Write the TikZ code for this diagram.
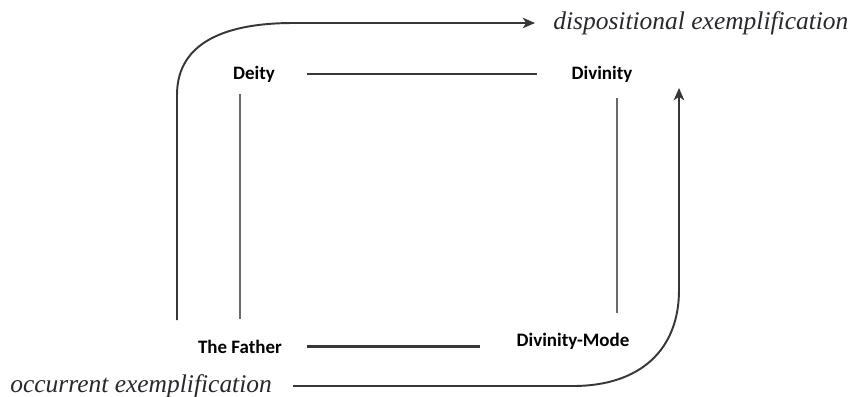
\documentclass[tikz,border=0pt]{standalone}
\usepackage{fontspec}
\setmainfont{Liberation Serif}
\newfontfamily\labelfont{Carlito}
\usetikzlibrary{arrows.meta}
\definecolor{linegrey}{RGB}{55,55,55}
\definecolor{bargrey}{RGB}{105,105,105}
\definecolor{textgrey}{RGB}{40,40,45}

\begin{document}
\begin{tikzpicture}[x=0.02cm,y=-0.02cm,
    term/.style={font=\labelfont\bfseries\fontsize{10.8}{12}\selectfont,inner sep=0pt,anchor=base},
    kind/.style={font=\itshape\fontsize{14.5}{16}\selectfont,text=textgrey,inner sep=0pt,anchor=west},
    link/.style={linegrey,line width=1.3pt},
    bar/.style={bargrey,line width=1.4pt},
    flow/.style={linegrey,line width=1.1pt,-{Stealth[length=7pt,width=6pt,inset=2pt]}}]
  \useasboundingbox (0,0) rectangle (859,396);
  % the four terms
  \node[term] (deity) at (254,79) {Deity};
  \node[term] (divinity) at (602,79) {Divinity};
  \node[term] (father) at (240,353) {The Father};
  \node[term] (mode) at (573,346) {Divinity-Mode};
  % the two kinds
  \node[kind] (disp) at (553,23) {dispositional exemplification};
  \node[kind] (occ) at (10,386) {occurrent exemplification};
  \coordinate (lstart) at (177,320);
  \coordinate (utip) at (679,88);
  % square
  \draw[link,shorten <=0.64cm,shorten >=0.68cm] (deity.east) -- (divinity.west);
  \draw[link,shorten <=0.5cm,shorten >=0.72cm] (father.east) -- (father.east -| mode.west);
  \draw[bar,shorten <=0.24cm,shorten >=0.4cm] (father.north |- deity.south) -- (father.north);
  \draw[bar,shorten <=0.32cm,shorten >=0.38cm]
    ([xshift=0.3cm]divinity.south) -- ([xshift=0.3cm]divinity.south |- mode.north);
  % dispositional arrow
  \draw[flow,shorten >=0.36cm] (lstart) -- (177,95)
    .. controls (177,40) and (230,23) .. (293,23) -- (disp.west);
  % occurrent arrow
  \draw[flow,shorten <=0.42cm] (occ.east) -- (573,386)
    .. controls (640,386) and (679,350) .. (679,290) -- (utip);
\end{tikzpicture}
\end{document}
